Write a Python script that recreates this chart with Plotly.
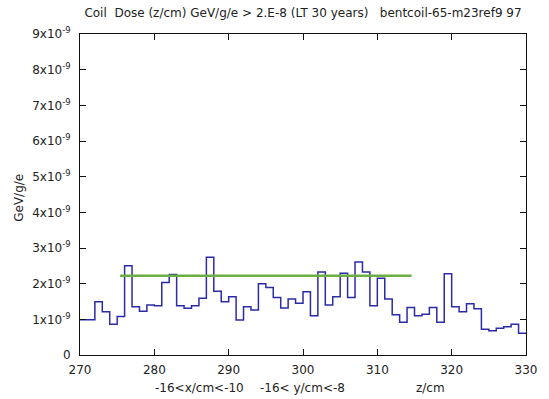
import plotly.graph_objects as go

# Dose per 1 cm bin along z (units of 1e-9 GeV/g/e), bins start at 270 cm
z_start = 270
bin_width = 1
dose_e9 = [
    0.99, 0.99, 1.49, 1.21, 0.86, 1.08, 2.50, 1.35, 1.23, 1.40,
    1.38, 2.03, 2.26, 1.38, 1.31, 1.38, 1.59, 2.74, 1.79, 1.49,
    1.63, 0.98, 1.35, 1.26, 2.00, 1.89, 1.61, 1.32, 1.57, 1.45,
    1.77, 1.10, 2.33, 1.40, 1.63, 2.29, 1.61, 2.61, 2.33, 1.38,
    2.15, 1.57, 1.13, 0.92, 1.33, 1.10, 1.14, 1.33, 0.92, 2.28,
    1.35, 1.21, 1.44, 1.30, 0.72, 0.68, 0.75, 0.79, 0.86, 0.61,
]

# Average level over the central coil section
avg_z = [275.4, 314.6]
avg_e9 = 2.22

x_ticks = [270, 280, 290, 300, 310, 320, 330]
y_ticks = [0, 1, 2, 3, 4, 5, 6, 7, 8, 9]
y_ticklabels = ["0"] + [f"{v}x10<sup>-9</sup>" for v in y_ticks[1:]]

scale = 1e-9
edges = [z_start + i * bin_width for i in range(len(dose_e9) + 1)]
step_y = [v * scale for v in dose_e9] + [dose_e9[-1] * scale]

font_family = "DejaVu Sans"
text_color = "#222222"

fig = go.Figure()
fig.add_trace(go.Scatter(
    x=edges, y=step_y, mode="lines", line_shape="hv",
    line=dict(color="#2b2ba6", width=1.5), showlegend=False, hoverinfo="skip",
))
fig.add_trace(go.Scatter(
    x=avg_z, y=[avg_e9 * scale] * 2, mode="lines",
    line=dict(color="#6cae45", width=2.5), showlegend=False, hoverinfo="skip",
))

axis_common = dict(
    showline=True, linecolor="#111111", linewidth=1, mirror="ticks",
    ticks="inside", ticklen=6, tickcolor="#111111", showgrid=False, zeroline=False,
    tickfont=dict(family=font_family, size=12, color=text_color),
)

fig.update_layout(
    width=549, height=399,
    margin=dict(l=80, r=15, t=34, b=44),
    paper_bgcolor="white", plot_bgcolor="white",
    font=dict(family=font_family, color=text_color, size=12),
    title=dict(
        text="Coil\u00a0 Dose (z/cm) GeV/g/e &gt; 2.E-8 (LT 30 years)\u00a0\u00a0 bentcoil-65-m23ref9 97",
        x=0.5, xref="paper", xanchor="center",
        y=1 - 13 / 399, yref="container", yanchor="middle",
        font=dict(family=font_family, size=12, color=text_color),
    ),
    xaxis=dict(range=[270, 330], tickvals=x_ticks, ticklabelstandoff=4, **axis_common),
    yaxis=dict(range=[0, 9 * scale], tickvals=[v * scale for v in y_ticks],
               ticktext=y_ticklabels, ticklabelstandoff=6, **axis_common),
)

# y-axis title
fig.add_annotation(
    text="GeV/g/e", textangle=-90, xref="paper", yref="paper",
    x=-62 / 454, y=0.49, xanchor="center", yanchor="middle", showarrow=False,
    font=dict(family=font_family, size=12, color=text_color),
)

# x-axis title pieces
for label, px in [("-16&lt;x/cm&lt;-10", 202), ("-16&lt; y/cm&lt;-8", 306), ("z/cm", 437)]:
    fig.add_annotation(
        text=label, xref="paper", yref="paper",
        x=(px - 80) / 454, y=-33 / 321, xanchor="center", yanchor="middle",
        showarrow=False, font=dict(family=font_family, size=12, color=text_color),
    )

fig.write_html("out.html")
